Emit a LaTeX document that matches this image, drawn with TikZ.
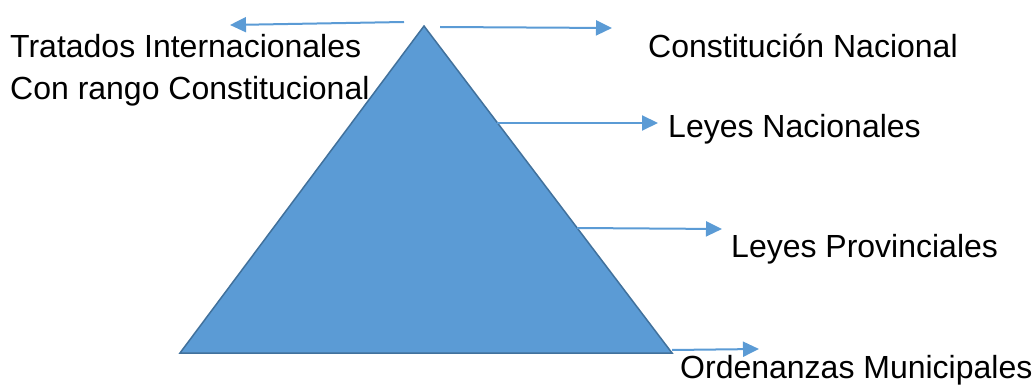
\documentclass[tikz,border=0pt]{standalone}
\usepackage{fontspec}
\setmainfont{Liberation Sans}
\usetikzlibrary{arrows.meta}
\definecolor{piramide}{HTML}{5B9BD5}
\definecolor{borde}{HTML}{41719C}

\begin{document}
\begin{tikzpicture}[x=1pt, y=-1pt,
    flecha/.style={draw=piramide, line width=2pt, -{Triangle[length=16pt, width=15pt]}},
    rotulo/.style={anchor=base west, inner sep=0pt, font=\fontsize{32}{42}\selectfont}]

  \useasboundingbox (0,0) rectangle (1033,385);

  %% piramide
  \coordinate (cima) at (424,26);
  \coordinate (izq) at (180,353);
  \coordinate (der) at (672,353);
  \draw[fill=piramide, draw=borde, line width=1.5pt] (cima) -- (der) -- (izq) -- cycle;

  %% rotulos
  \node[rotulo] (tratados) at (10,58) {Tratados Internacionales};
  \node[rotulo] (rango) at (10,100) {Con rango Constitucional};
  \node[rotulo] (constitucion) at (648,58) {Constitución Nacional};
  \node[rotulo] (nacionales) at (668,138) {Leyes Nacionales};
  \node[rotulo] (provinciales) at (731,257) {Leyes Provinciales};
  \node[rotulo] (ordenanzas) at (680,378) {Ordenanzas Municipales};

  %% flechas
  \coordinate (a1) at (404,22);  \coordinate (b1) at (230,25);
  \coordinate (a2) at (440,27);  \coordinate (b2) at (612,28);
  \coordinate (a3) at (497,123); \coordinate (b3) at (658,123);
  \coordinate (a4) at (577,228); \coordinate (b4) at (722,229);
  \coordinate (a5) at (672,350); \coordinate (b5) at (759,349);

  \draw[flecha] (a1) -- (b1); %% tratados
  \draw[flecha] (a2) -- (b2); %% constitucion
  \draw[flecha] (a3) -- (b3); %% nacionales
  \draw[flecha] (a4) -- (b4); %% provinciales
  \draw[flecha] (a5) -- (b5); %% ordenanzas
\end{tikzpicture}
\end{document}
